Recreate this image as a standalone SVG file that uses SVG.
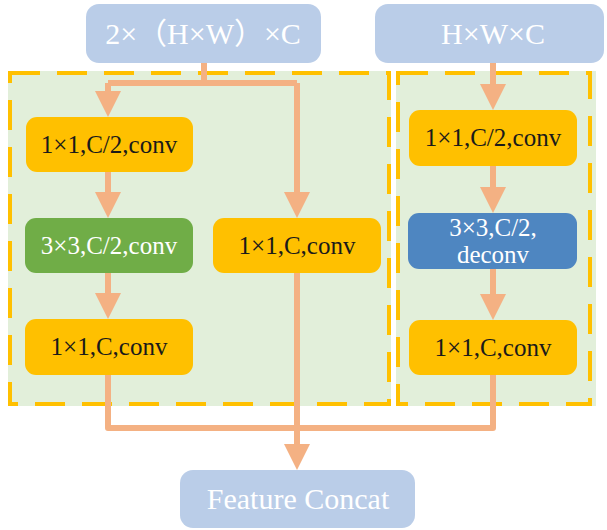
<svg xmlns="http://www.w3.org/2000/svg" width="607" height="530" viewBox="0 0 607 530">
  <style>
    .frame { fill: #E2EFDA; }
    .dash { fill: none; stroke: #FFC000; stroke-width: 4; stroke-dasharray: 30 17; }
    .io { fill: #BACDE8; }
    .yel { fill: #FFC000; }
    .grn { fill: #70AD47; }
    .blu { fill: #4E86C1; }
    .t { font-family: "Liberation Serif", "Noto Sans CJK SC", serif; text-anchor: middle; }
    .tw { fill: #FFFFFF; }
    .tk { fill: #1A1A1A; }
    .big { font-size: 30px; }
    .mid { font-size: 25px; }
    .wire { fill: none; stroke: #F4B183; stroke-width: 6; stroke-linejoin: round; stroke-linecap: butt; }
  </style>
  <defs>
    <marker id="arrow" markerUnits="userSpaceOnUse" viewBox="0 0 26 26" markerWidth="26" markerHeight="26" refX="14" refY="13" orient="auto">
      <path d="M0,0 L26,13 L0,26 Z" fill="#F4B183"/>
    </marker>
  </defs>

  <!-- dashed module frames -->
  <g id="frame-left">
    <rect class="frame" x="8" y="71" width="383" height="335"/>
    <rect class="dash" x="10" y="73" width="379" height="331"/>
  </g>
  <g id="frame-right">
    <rect class="frame" x="396" y="71" width="200" height="335"/>
    <rect class="dash" x="398" y="73" width="192" height="331"/>
  </g>

  <!-- connectors -->
  <g id="connectors">
    <path class="wire" d="M204,63 V83"/>
    <path class="wire" d="M108,83 H297"/>
    <path class="wire" d="M108,83 V105" marker-end="url(#arrow)"/>
    <path class="wire" d="M297,83 V206" marker-end="url(#arrow)"/>
    <path class="wire" d="M108,172 V206" marker-end="url(#arrow)"/>
    <path class="wire" d="M108,273 V307" marker-end="url(#arrow)"/>
    <path class="wire" d="M493,63 V98" marker-end="url(#arrow)"/>
    <path class="wire" d="M493,166 V201" marker-end="url(#arrow)"/>
    <path class="wire" d="M493,269 V308" marker-end="url(#arrow)"/>
    <path class="wire" d="M108,375 V428 H493 V375"/>
    <path class="wire" d="M297,273 V458" marker-end="url(#arrow)"/>
  </g>

  <!-- inputs -->
  <g id="in-pair">
    <rect class="io" x="86" y="4" width="235" height="59" rx="13"/>
    <text class="t tw big" x="203" y="44">2×（H×W）×C</text>
  </g>
  <g id="in-single">
    <rect class="io" x="375" y="4" width="229" height="59" rx="13"/>
    <text class="t tw big" x="493" y="44">H×W×C</text>
  </g>

  <!-- left branch -->
  <g id="l-conv1">
    <rect class="yel" x="26" y="117" width="167" height="55" rx="11"/>
    <text class="t tk mid" x="109" y="153">1×1,C/2,conv</text>
  </g>
  <g id="l-conv3">
    <rect class="grn" x="25" y="218" width="168" height="55" rx="11"/>
    <text class="t tw mid" x="109" y="254">3×3,C/2,conv</text>
  </g>
  <g id="l-conv1c">
    <rect class="yel" x="25" y="319" width="168" height="56" rx="11"/>
    <text class="t tk mid" x="109" y="355">1×1,C,conv</text>
  </g>
  <g id="m-conv1c">
    <rect class="yel" x="213" y="218" width="168" height="55" rx="11"/>
    <text class="t tk mid" x="297" y="254">1×1,C,conv</text>
  </g>

  <!-- right branch -->
  <g id="r-conv1">
    <rect class="yel" x="409" y="110" width="168" height="56" rx="11"/>
    <text class="t tk mid" x="493" y="146">1×1,C/2,conv</text>
  </g>
  <g id="r-deconv">
    <rect class="blu" x="408" y="213" width="169" height="56" rx="11"/>
    <text class="t tw mid" x="493" y="236">3×3,C/2,</text>
    <text class="t tw mid" x="493" y="263">deconv</text>
  </g>
  <g id="r-conv1c">
    <rect class="yel" x="409" y="320" width="168" height="55" rx="11"/>
    <text class="t tk mid" x="493" y="356">1×1,C,conv</text>
  </g>

  <!-- output -->
  <g id="concat">
    <rect class="io" x="180" y="470" width="235" height="58" rx="13"/>
    <text class="t tw big" x="298" y="509">Feature Concat</text>
  </g>
</svg>
